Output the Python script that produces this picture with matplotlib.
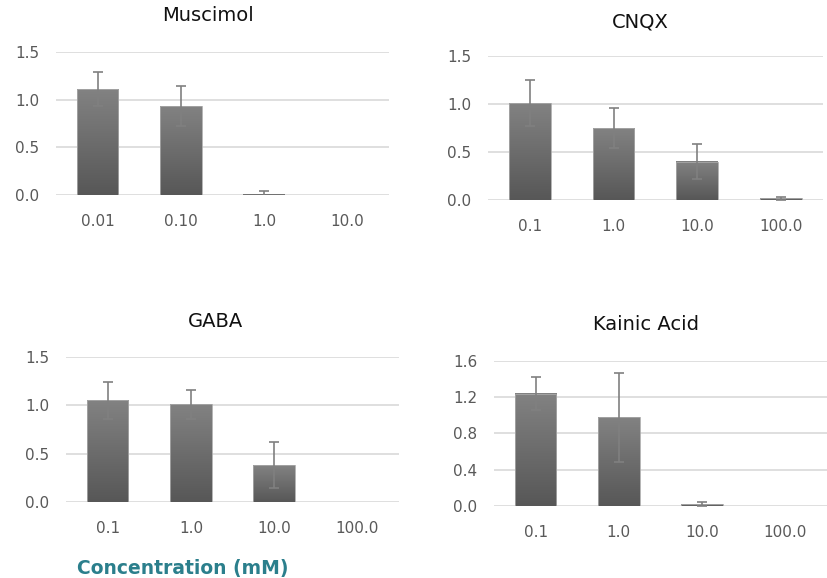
import numpy as np
from matplotlib import pyplot as plt

# Chart data
muscimol_labels = ["0.01", "0.10", "1.0", "10.0"]
muscimol_values = [1.11, 0.93, 0.005, 0.0]
muscimol_errors = [0.18, 0.21, 0.035, 0.0]

cnqx_labels = ["0.1", "1.0", "10.0", "100.0"]
cnqx_values = [1.01, 0.75, 0.40, 0.02]
cnqx_errors = [0.24, 0.21, 0.18, 0.015]

gaba_labels = ["0.1", "1.0", "10.0", "100.0"]
gaba_values = [1.05, 1.01, 0.38, 0.0]
gaba_errors = [0.19, 0.15, 0.24, 0.0]

kainic_labels = ["0.1", "1.0", "10.0", "100.0"]
kainic_values = [1.24, 0.98, 0.02, 0.0]
kainic_errors = [0.18, 0.49, 0.02, 0.0]

plt.rcParams['font.family'] = ['DejaVu Sans']

fig = plt.figure(figsize=(8.27, 5.78), dpi=100)

# (rect, title, title position, labels, values, errors, ylim, yticks)
panels = [
    ([0.0677, 0.6626, 0.4027, 0.2474], "Muscimol", (0.251, 0.974),
     muscimol_labels, muscimol_values, muscimol_errors, 1.5, [0, 0.5, 1.0, 1.5]),
    ([0.590, 0.654, 0.405, 0.249], "CNQX", (0.774, 0.962),
     cnqx_labels, cnqx_values, cnqx_errors, 1.5, [0, 0.5, 1.0, 1.5]),
    ([0.0798, 0.1315, 0.4027, 0.2509], "GABA", (0.260, 0.444),
     gaba_labels, gaba_values, gaba_errors, 1.5, [0, 0.5, 1.0, 1.5]),
    ([0.5973, 0.1246, 0.4027, 0.2509], "Kainic Acid", (0.781, 0.439),
     kainic_labels, kainic_values, kainic_errors, 1.6, [0, 0.4, 0.8, 1.2, 1.6]),
]

gradient = np.linspace(0, 1, 256).reshape(-1, 1)
cmap = plt.matplotlib.colors.LinearSegmentedColormap.from_list("bar", ["#575757", "#828282"])

for rect, title, tpos, labels, values, errors, ymax, yticks in panels:
    ax = fig.add_axes(rect)
    x = np.arange(len(labels))
    bars = ax.bar(x, values, width=0.5, color="none", edgecolor="#a8a8a8", linewidth=0.6, zorder=3)

    # Gradient fill for each bar
    for bar in bars:
        bx, by = bar.get_x(), bar.get_y()
        bw, bh = bar.get_width(), bar.get_height()
        if bh <= 0:
            continue
        ax.imshow(gradient, cmap=cmap, aspect="auto", origin="lower",
                  extent=[bx, bx + bw, by, by + bh], zorder=2)

    # Error bars only where there is an error
    xe = [xi for xi, e in zip(x, errors) if e > 0]
    ve = [v for v, e in zip(values, errors) if e > 0]
    ee = [e for e in errors if e > 0]
    ax.errorbar(xe, ve, yerr=ee, fmt="none", ecolor="#808080",
                elinewidth=1.2, capsize=3.5, capthick=1.2, zorder=4)

    ax.set_xlim(-0.5, len(labels) - 0.5)
    ax.set_ylim(0, ymax)
    ax.set_yticks(yticks)
    ax.set_yticklabels(["{:.1f}".format(t) for t in yticks])
    ax.set_xticks(x)
    ax.set_xticklabels(labels)
    ax.tick_params(axis="both", length=0, labelsize=11, colors="#595959")
    ax.tick_params(axis="y", pad=12)
    ax.tick_params(axis="x", pad=14)
    for spine in ax.spines.values():
        spine.set_visible(False)
    ax.grid(axis="y", color="#d9d9d9", linewidth=1.2, zorder=0)
    ax.set_axisbelow(True)

    fig.text(tpos[0], tpos[1], title, ha="center", va="center", fontsize=14, color="#111111")

fig.text(0.221, 0.016, "Concentration (mM)", ha="center", va="center",
         fontsize=13.5, fontweight="bold", color="#2b7f8c")

fig.savefig("out.png", dpi=100)
